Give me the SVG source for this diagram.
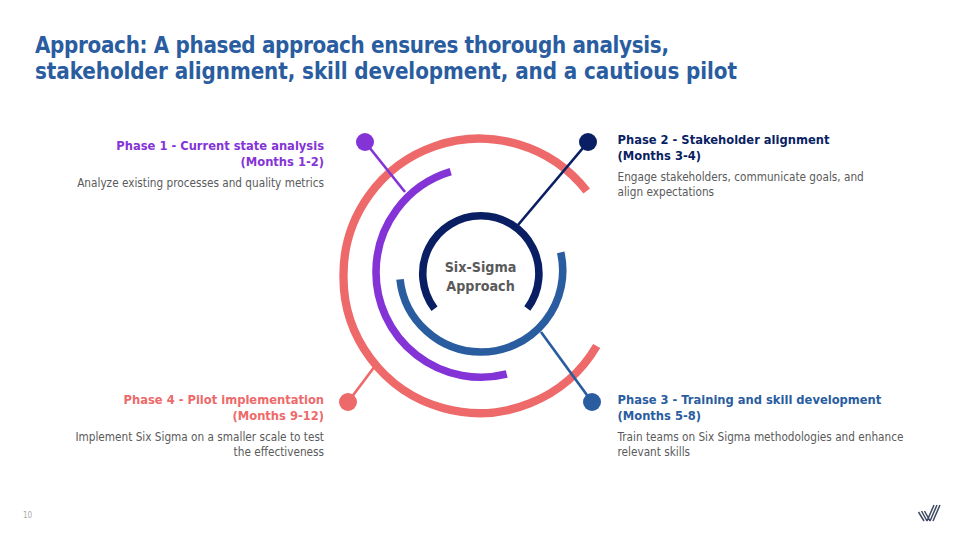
<svg xmlns="http://www.w3.org/2000/svg" width="960" height="540" viewBox="0 0 960 540">
<style>
text{font-family:"DejaVu Sans Condensed","DejaVu Sans",sans-serif}
.t{font-size:22.200px;font-weight:700;fill:#2a5d9f}
.h{font-size:12.800px;font-weight:700}
.d{font-size:11.700px;fill:#5a5a5a}
.e{text-anchor:end}
.arc{fill:none;stroke-width:7.600}
.ln{fill:none;stroke-width:2.700}
.pu{stroke:#8434d6}.na{stroke:#0a1f63}.bl{stroke:#2a5d9f}.co{stroke:#ee6a6a}
</style>
<rect width="960" height="540" fill="#fff"/>
<g id="title"><text class="t" x="35" y="53" textLength="634">Approach: A phased approach ensures thorough analysis,</text><text class="t" x="35" y="79" textLength="702">stakeholder alignment, skill development, and a cautious pilot</text></g>
<g id="ring-coral"><path class="arc co" style="stroke-width:8.300" d="M586.700 191A136 136 0 0 0 343.500 275A136 136 0 0 0 596.700 346"/></g>
<g id="connectors">
<path class="ln pu" d="M365 142L405 192"/>
<path class="ln na" d="M588 142L518 225"/>
<path class="ln bl" d="M592 402L541 332"/>
<path class="ln co" d="M348 402L375 366"/>
</g>
<g id="ring-purple"><path class="arc pu" d="M450.700 171.700A105 105 0 0 0 376 272A105 105 0 0 0 506.700 374"/></g>
<g id="ring-blue"><path class="arc bl" d="M560.700 252.300A81.500 81.500 0 0 1 481 352A81.500 81.500 0 0 1 400 279.300"/></g>
<g id="ring-navy"><path class="arc na" d="M434.500 308.700A58 58 0 0 1 480.700 215.700A58 58 0 0 1 527.300 308.500"/></g>
<g id="center"><text x="480.500" y="271.500" text-anchor="middle" font-size="14.200" font-weight="700" fill="#5a5a5a">Six-Sigma</text><text x="480.500" y="290.500" text-anchor="middle" font-size="14.200" font-weight="700" fill="#5a5a5a">Approach</text></g>
<g id="phase1"><circle cx="365" cy="142" r="9" fill="#8434d6"/><text class="h e" x="324" y="149.500" fill="#8434d6">Phase 1 - Current state analysis</text><text class="h e" x="324" y="165.500" fill="#8434d6">(Months 1-2)</text><text class="d e" x="324" y="187">Analyze existing processes and quality metrics</text></g>
<g id="phase2"><circle cx="588" cy="142" r="9" fill="#0a1f63"/><text class="h" x="617.500" y="143.500" fill="#0a1f63">Phase 2 - Stakeholder alignment</text><text class="h" x="617.500" y="159.500" fill="#0a1f63">(Months 3-4)</text><text class="d" x="617.500" y="181">Engage stakeholders, communicate goals, and</text><text class="d" x="617.500" y="196">align expectations</text></g>
<g id="phase3"><circle cx="592" cy="402" r="9" fill="#2a5d9f"/><text class="h" x="617.500" y="403.500" fill="#2a5d9f">Phase 3 - Training and skill development</text><text class="h" x="617.500" y="419.500" fill="#2a5d9f">(Months 5-8)</text><text class="d" x="617.500" y="441">Train teams on Six Sigma methodologies and enhance</text><text class="d" x="617.500" y="456">relevant skills</text></g>
<g id="phase4"><circle cx="348" cy="402" r="9" fill="#ee6a6a"/><text class="h e" x="324" y="403.500" fill="#ee6a6a">Phase 4 - Pilot implementation</text><text class="h e" x="324" y="419.500" fill="#ee6a6a">(Months 9-12)</text><text class="d e" x="324" y="441">Implement Six Sigma on a smaller scale to test</text><text class="d e" x="324" y="456">the effectiveness</text></g>
<g id="footer"><text x="23" y="518" font-size="8" fill="#aaa">10</text>
<path d="M918.500 512L924 521M921.500 511L927 521M924.500 511L930 521M927 521L934 505M930 521L937 505M933 521L940 505" fill="none" stroke="#3d4a63" stroke-width="1.500"/></g>
</svg>
